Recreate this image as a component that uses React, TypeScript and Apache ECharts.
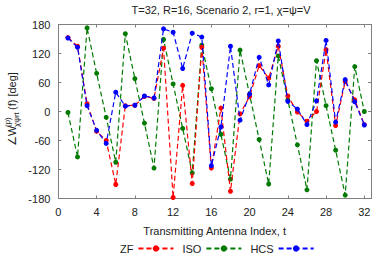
import React, { useEffect, useRef } from "react";
import * as echarts from "echarts";

const tIndex = [1,2,3,4,5,6,7,8,9,10,11,12,13,14,15,16,17,18,19,20,21,22,23,24,25,26,27,28,29,30,31,32];
const zfValues = [153,135,16,-41,-60,-151,12,13,31,27,131,-178,54,-149,133,-117,7,-165,-5,31,95,69,135,32,-1,-20,0,128,-29,62,24,-27];
const isoValues = [-2,-94,173,79,-12,-105,161,68,-24,-117,149,57,-35,-127,137,47,-47,-140,127,35,-58,-150,115,24,-69,-162,105,12,-80,-173,93,0];
const hcsValues = [152,133,12,-39,-66,40,11,13,32,28,171,164,89,162,154,-112,-32,135,-18,36,112,55,146,21,5,-27,22,147,-22,66,20,-28];
const seriesNames = ["ZF", "ISO", "HCS"];
const titleText = "T=32, R=16, Scenario 2, r=1, \u03C7=\u03C8=V";
const xName = "Transmitting Antenna Index, t";

const FONT = "Liberation Sans, Arial, Helvetica, sans-serif";

export default function App() {
  const ref = useRef<HTMLDivElement>(null);
  useEffect(() => {
    document.body.style.margin = "0";
    if (!ref.current) return;
    const chart = echarts.init(ref.current, null, { renderer: "svg" });
    const pair = (vals: number[]) => tIndex.map((t, i) => [t, vals[i]]);
    const axisLineStyle = { color: "#808080", width: 1 };
    const mk = (name: string, color: string, vals: number[], z: number) => ({
      name,
      type: "line",
      data: pair(vals),
      symbol: "circle",
      symbolSize: 5,
      z,
      itemStyle: { color },
      lineStyle: { color, width: 1.2, type: [5, 3] },
    });
    chart.setOption({
      animation: false,
      textStyle: { fontFamily: FONT },
      title: {
        text: titleText,
        left: 216,
        top: -1,
        textAlign: "center",
        textStyle: { fontSize: 11, fontWeight: "normal", color: "#222", fontFamily: FONT },
      },
      grid: { left: 58.4, right: 2.3, top: 24.5, bottom: 60.5 },
      legend: {
        data: seriesNames,
        left: 118,
        top: 241,
        padding: 2,
        align: "right",
        itemWidth: 35,
        itemHeight: 8,
        itemGap: 8,
        textStyle: { fontSize: 11, color: "#222", fontFamily: FONT },
      },
      xAxis: [
        {
          type: "value",
          min: 0,
          max: 32.7,
          interval: 4,
          position: "bottom",
          name: xName,
          nameLocation: "middle",
          nameGap: 27,
          nameTextStyle: { fontSize: 11, color: "#222", fontFamily: FONT },
          axisLine: { show: true, onZero: false, lineStyle: axisLineStyle },
          axisTick: { inside: true, length: 3, lineStyle: axisLineStyle },
          axisLabel: {
            fontSize: 11,
            color: "#222",
            margin: 8,
            formatter: (v: number) => (Number.isInteger(v) ? String(v) : ""),
          },
          splitLine: { show: false },
        },
        {
          type: "value",
          min: 0,
          max: 32.7,
          interval: 4,
          position: "top",
          axisLine: { show: true, onZero: false, lineStyle: axisLineStyle },
          axisTick: { inside: true, length: 3, lineStyle: axisLineStyle },
          axisLabel: { show: false },
          splitLine: { show: false },
        },
      ],
      yAxis: [
        {
          type: "value",
          min: -180,
          max: 180,
          interval: 60,
          position: "left",
          axisLine: { show: true, onZero: false, lineStyle: axisLineStyle },
          axisTick: { inside: true, length: 3, lineStyle: axisLineStyle },
          axisLabel: { fontSize: 11, color: "#222", margin: 8 },
          splitLine: { show: false },
        },
        {
          type: "value",
          min: -180,
          max: 180,
          interval: 60,
          position: "right",
          axisLine: { show: true, onZero: false, lineStyle: axisLineStyle },
          axisTick: { inside: true, length: 3, lineStyle: axisLineStyle },
          axisLabel: { show: false },
          splitLine: { show: false },
        },
      ],
      graphic: [
        {
          type: "group",
          x: 12,
          y: 146,
          rotation: Math.PI / 2,
          children: [
            { type: "text", x: 0, y: 0, style: { text: "\u2220W", font: `11px ${FONT}`, fill: "#222", textAlign: "left", textVerticalAlign: "middle" } },
            { type: "text", x: 19, y: -5, style: { text: "(p)", font: `8px ${FONT}`, fill: "#222", textAlign: "left", textVerticalAlign: "middle" } },
            { type: "text", x: 19, y: 4, style: { text: "\u03C7\u03C8rt", font: `8px ${FONT}`, fill: "#222", textAlign: "left", textVerticalAlign: "middle" } },
            { type: "text", x: 36, y: 0, style: { text: "(f) [deg]", font: `11px ${FONT}`, fill: "#222", textAlign: "left", textVerticalAlign: "middle" } },
          ],
        },
      ],
      series: [
        mk("ISO", "#007a00", isoValues, 2),
        mk("ZF", "#ff0000", zfValues, 3),
        mk("HCS", "#0000ff", hcsValues, 4),
      ],
    });
    return () => chart.dispose();
  }, []);
  return <div ref={ref} style={{ width: 374, height: 259 }} />;
}
